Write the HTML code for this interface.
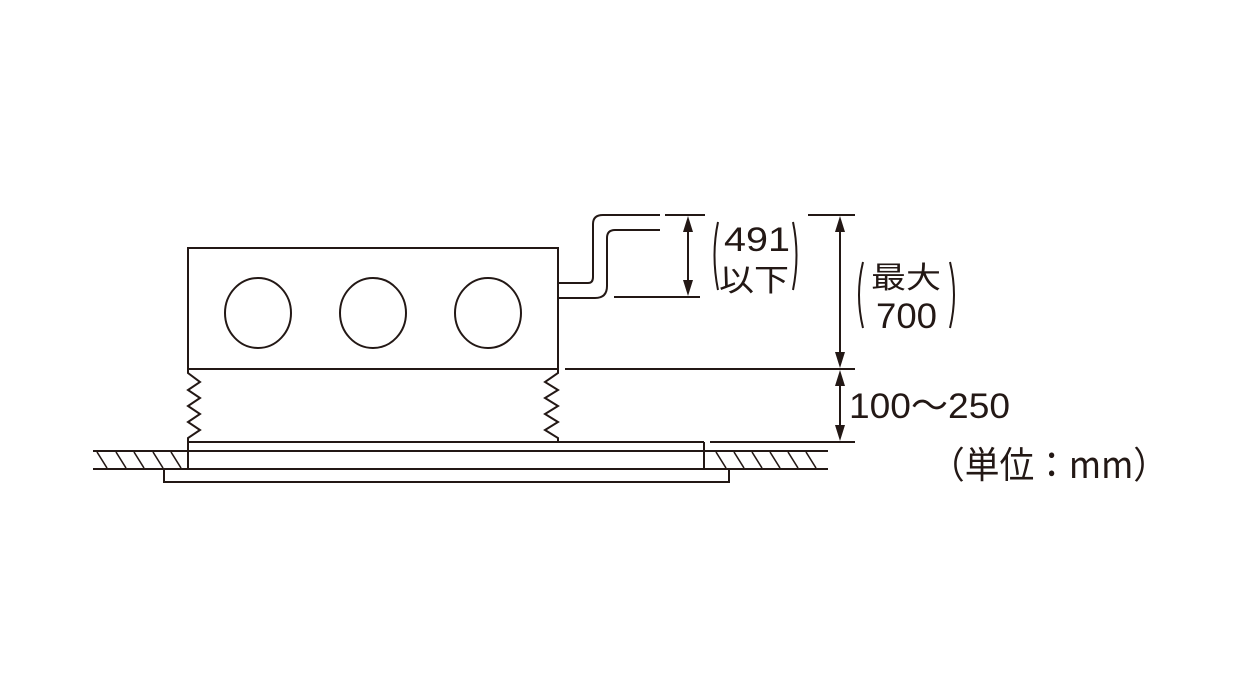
<!DOCTYPE html>
<html><head><meta charset="utf-8"><style>
html,body{margin:0;padding:0;background:#fff}
svg{display:block}
text{font-family:"Liberation Sans","Noto Sans CJK JP",sans-serif;fill:#231815}
.j{font-family:"Noto Sans CJK JP",sans-serif}
</style></head><body>
<svg width="1240" height="698" viewBox="0 0 1240 698" xmlns="http://www.w3.org/2000/svg">
<g stroke="#231815" stroke-width="2" fill="none">
<rect x="188" y="248" width="370" height="121"/>
<ellipse cx="258" cy="313" rx="33" ry="35"/>
<ellipse cx="373" cy="313" rx="33" ry="35"/>
<ellipse cx="488" cy="313" rx="33" ry="35"/>
<polyline points="188,369 188,373 200,382 188,390 200,398 188,406 200,414 188,422 200,430 188,438 188,442"/>
<polyline points="558,369 558,373 545,382 558,390 545,398 558,406 545,414 558,422 545,430 558,438 558,442"/>
<line x1="188" y1="442" x2="704" y2="442"/>
<line x1="704" y1="442" x2="704" y2="469"/>
<line x1="188" y1="442" x2="188" y2="469"/>
<line x1="93" y1="451" x2="828" y2="451"/>
<line x1="93" y1="469" x2="828" y2="469"/>
<rect x="164" y="469" width="565" height="13"/>
<g stroke-width="1.6">
<line x1="97" y1="452" x2="107" y2="468"/><line x1="116" y1="452" x2="126" y2="468"/><line x1="134" y1="452" x2="144" y2="468"/><line x1="153" y1="452" x2="163" y2="468"/><line x1="171" y1="452" x2="181" y2="468"/>
<line x1="716" y1="452" x2="726" y2="468"/><line x1="734" y1="452" x2="744" y2="468"/><line x1="752" y1="452" x2="762" y2="468"/><line x1="770" y1="452" x2="780" y2="468"/><line x1="788" y1="452" x2="798" y2="468"/><line x1="806" y1="452" x2="816" y2="468"/>
</g>
<path d="M558 283 H588 Q593 283 593 277 V224 Q593 215 603 215 H660"/>
<path d="M558 298 H595 Q607 298 607 286 V238 Q607 230 615 230 H660"/>
<line x1="665" y1="215" x2="705" y2="215"/>
<line x1="614" y1="297" x2="700" y2="297"/>
<line x1="688" y1="225" x2="688" y2="287"/>
<line x1="808" y1="215" x2="855" y2="215"/>
<line x1="840" y1="225" x2="840" y2="360"/>
<line x1="565" y1="369" x2="855" y2="369"/>
<line x1="840" y1="380" x2="840" y2="432"/>
<line x1="710" y1="442" x2="855" y2="442"/>
<path d="M718 222 Q711 255 718 290"/>
<path d="M793 222 Q800 255 793 290"/>
<path d="M863 262 Q855 295 863 328"/>
<path d="M950 262 Q958 295 950 328"/>
</g>
<g fill="#231815">
<polygon points="688,216 683,232 693,232"/>
<polygon points="688,296 683,280 693,280"/>
<polygon points="840,216 835,232 845,232"/>
<polygon points="840,368 835,352 845,352"/>
<polygon points="840,370 835,386 845,386"/>
<polygon points="840,441 835,425 845,425"/>
</g>
<text x="724" y="251" font-size="34" textLength="66" lengthAdjust="spacingAndGlyphs">491</text>
<text class="j" x="719" y="291" font-size="31" textLength="70" lengthAdjust="spacingAndGlyphs">以下</text>
<text class="j" x="871" y="288" font-size="30" textLength="70" lengthAdjust="spacingAndGlyphs">最大</text>
<text x="876" y="328" font-size="35" textLength="61" lengthAdjust="spacingAndGlyphs">700</text>
<text x="849" y="418" font-size="35" textLength="161" lengthAdjust="spacingAndGlyphs">100～250</text>
<text class="j" x="930" y="478" font-size="37" textLength="238" lengthAdjust="spacingAndGlyphs">（単位：mm）</text>
</svg>
</body></html>
